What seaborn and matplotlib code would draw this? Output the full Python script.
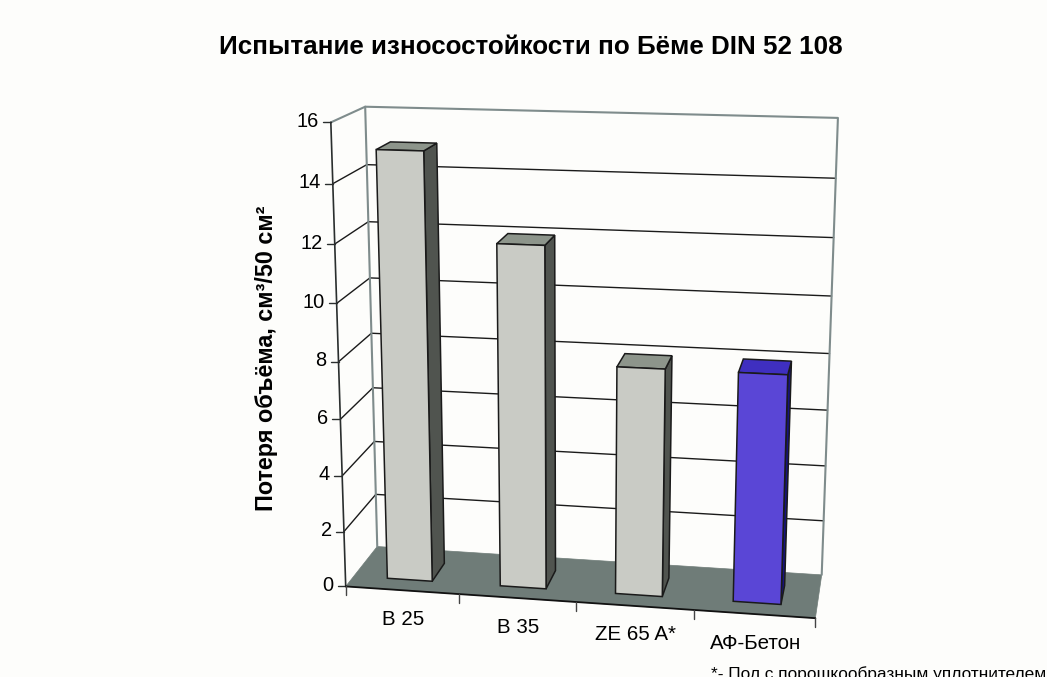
import numpy as np
import pandas as pd
import matplotlib
matplotlib.use("Agg")
import matplotlib.pyplot as plt
import seaborn as sns

categories = ["B 25", "B 35", "ZE 65 A*", "АФ-Бетон"]
volume_loss = [15.0, 12.0, 8.0, 8.0]
y_ticks = [0, 2, 4, 6, 8, 10, 12, 14, 16]

title = "Испытание износостойкости по Бёме DIN 52 108"
y_title = "Потеря объёма, см³/50 см²"
footnote = "*- Пол с порошкообразным уплотнителем"

W, H = 1047, 677
PAPER = "#FDFDFB"
FLOOR = "#6F7C78"
FRAME = "#7F8C8C"
GRID = "#1A1A1A"
BAR_GREY = ("#C9CBC5", "#8D958B", "#50544F")
BAR_BLUE = ("#5A46D6", "#3F2FC0", "#17127E")

sns.set_theme(style="white", rc={"figure.facecolor": PAPER, "axes.facecolor": PAPER})
plt.rcParams["font.family"] = ["Liberation Sans", "DejaVu Sans"]

# Camera calibration: box corners (category position, depth, value) on the canvas.
box_corners = np.array([
    [0, 0, 0], [4, 0, 0], [0, 1, 0], [4, 1, 0],
    [0, 0, 16], [0, 1, 16], [4, 1, 16],
], float)
canvas_corners = np.array([
    [345, 586], [815, 619], [378, 547], [822, 574],
    [332, 122], [364, 107], [838, 118],
], float)


def fit_camera(world, image):
    rows, rhs = [], []
    for (x, d, h), (u, v) in zip(world, image):
        rows.append([x, d, h, 1, 0, 0, 0, 0, -u * x, -u * d, -u * h])
        rows.append([0, 0, 0, 0, x, d, h, 1, -v * x, -v * d, -v * h])
        rhs += [u, v]
    p = np.linalg.lstsq(np.array(rows), np.array(rhs), rcond=None)[0]
    return np.append(p, 1.0).reshape(3, 4)


CAMERA = fit_camera(box_corners, canvas_corners)


def project(x, d, h):
    u, v, w = CAMERA @ np.array([x, d, h, 1.0])
    return u / w, v / w


def face(ax, pts, color, edge=GRID, lw=1.1, z=3):
    xy = [project(*p) for p in pts]
    ax.fill(*zip(*xy), facecolor=color, edgecolor=edge, linewidth=lw, zorder=z, joinstyle="miter")


fig = plt.figure(figsize=(W / 100, H / 100), dpi=100)
ax = fig.add_axes([0, 0, 1, 1])
ax.set_xlim(0, W)
ax.set_ylim(H, 0)
ax.set_axis_off()

top = y_ticks[-1]
n = len(categories)

# Floor
face(ax, [(0, 0, 0), (n, 0, 0), (n, 1, 0), (0, 1, 0)], FLOOR, edge=FLOOR, lw=0.5, z=1)

# Gridlines along the side wall and the back wall
records = []
for t in y_ticks[1:-1]:
    for k, p in enumerate([(0, 0, t), (0, 1, t), (n, 1, t)]):
        u, v = project(*p)
        records.append({"u": u, "v": v, "level": t, "order": k})
grid = pd.DataFrame(records)
sns.lineplot(data=grid, x="u", y="v", units="level", estimator=None, sort=False,
             color=GRID, linewidth=1.0, ax=ax, zorder=2)
ax.set_xlabel("")
ax.set_ylabel("")

# Wall frame
for path in ([(0, 0, top), (0, 1, top), (n, 1, top), (n, 1, 0)], [(0, 1, top), (0, 1, 0)]):
    ax.plot(*zip(*[project(*p) for p in path]), color=FRAME, lw=1.5, zorder=2)

# Value axis with ticks
ax.plot(*zip(*[project(0, 0, 0), project(0, 0, top)]), color="#2A2E2E", lw=1.2, zorder=4)
for t in y_ticks:
    u, v = project(0, 0, t)
    ax.plot([u - 8, u], [v, v], color="#2A2E2E", lw=1.0, zorder=4)
    ax.text(u - 12, v - 1, str(t), ha="right", va="center", fontsize=14.4, color="#000000")

# Category axis with ticks
ax.plot(*zip(*[project(0, 0, 0), project(n, 0, 0)]), color="#111111", lw=1.3, zorder=4)
for i in range(n + 1):
    u, v = project(i, 0, 0)
    ax.plot([u, u], [v, v + 9], color="#444444", lw=1.0, zorder=4)

# Bars
gap = 0.30
d0, d1 = 0.25, 0.69
for i, value in enumerate(volume_loss):
    front, upper, side = BAR_BLUE if categories[i].startswith("АФ") else BAR_GREY
    a, b = i + gap, i + 1 - gap
    face(ax, [(b, d0, 0), (b, d1, 0), (b, d1, value), (b, d0, value)], side, z=5 + i)
    face(ax, [(a, d0, value), (b, d0, value), (b, d1, value), (a, d1, value)], upper, z=5 + i)
    face(ax, [(a, d0, 0), (b, d0, 0), (b, d0, value), (a, d0, value)], front, z=5 + i)

# Category labels
for i, name in enumerate(categories):
    u, v = project(i + 0.5, 0, 0)
    ax.text(u + 1, v + 29, name, ha="center", va="center", fontsize=14.8, color="#000000")

ax.text(531, 47, title, ha="center", va="center", fontsize=18.7, fontweight="bold", color="#000000")
ax.text(265, 358, y_title, rotation=90, ha="center", va="center", fontsize=16.8,
        fontweight="bold", color="#000000", transform=ax.transData + matplotlib.transforms.Affine2D().translate(2, 0))
ax.text(711, 674, footnote, ha="left", va="center", fontsize=12.4, color="#000000", clip_on=False)

fig.savefig("out.png", dpi=100, facecolor=PAPER)
